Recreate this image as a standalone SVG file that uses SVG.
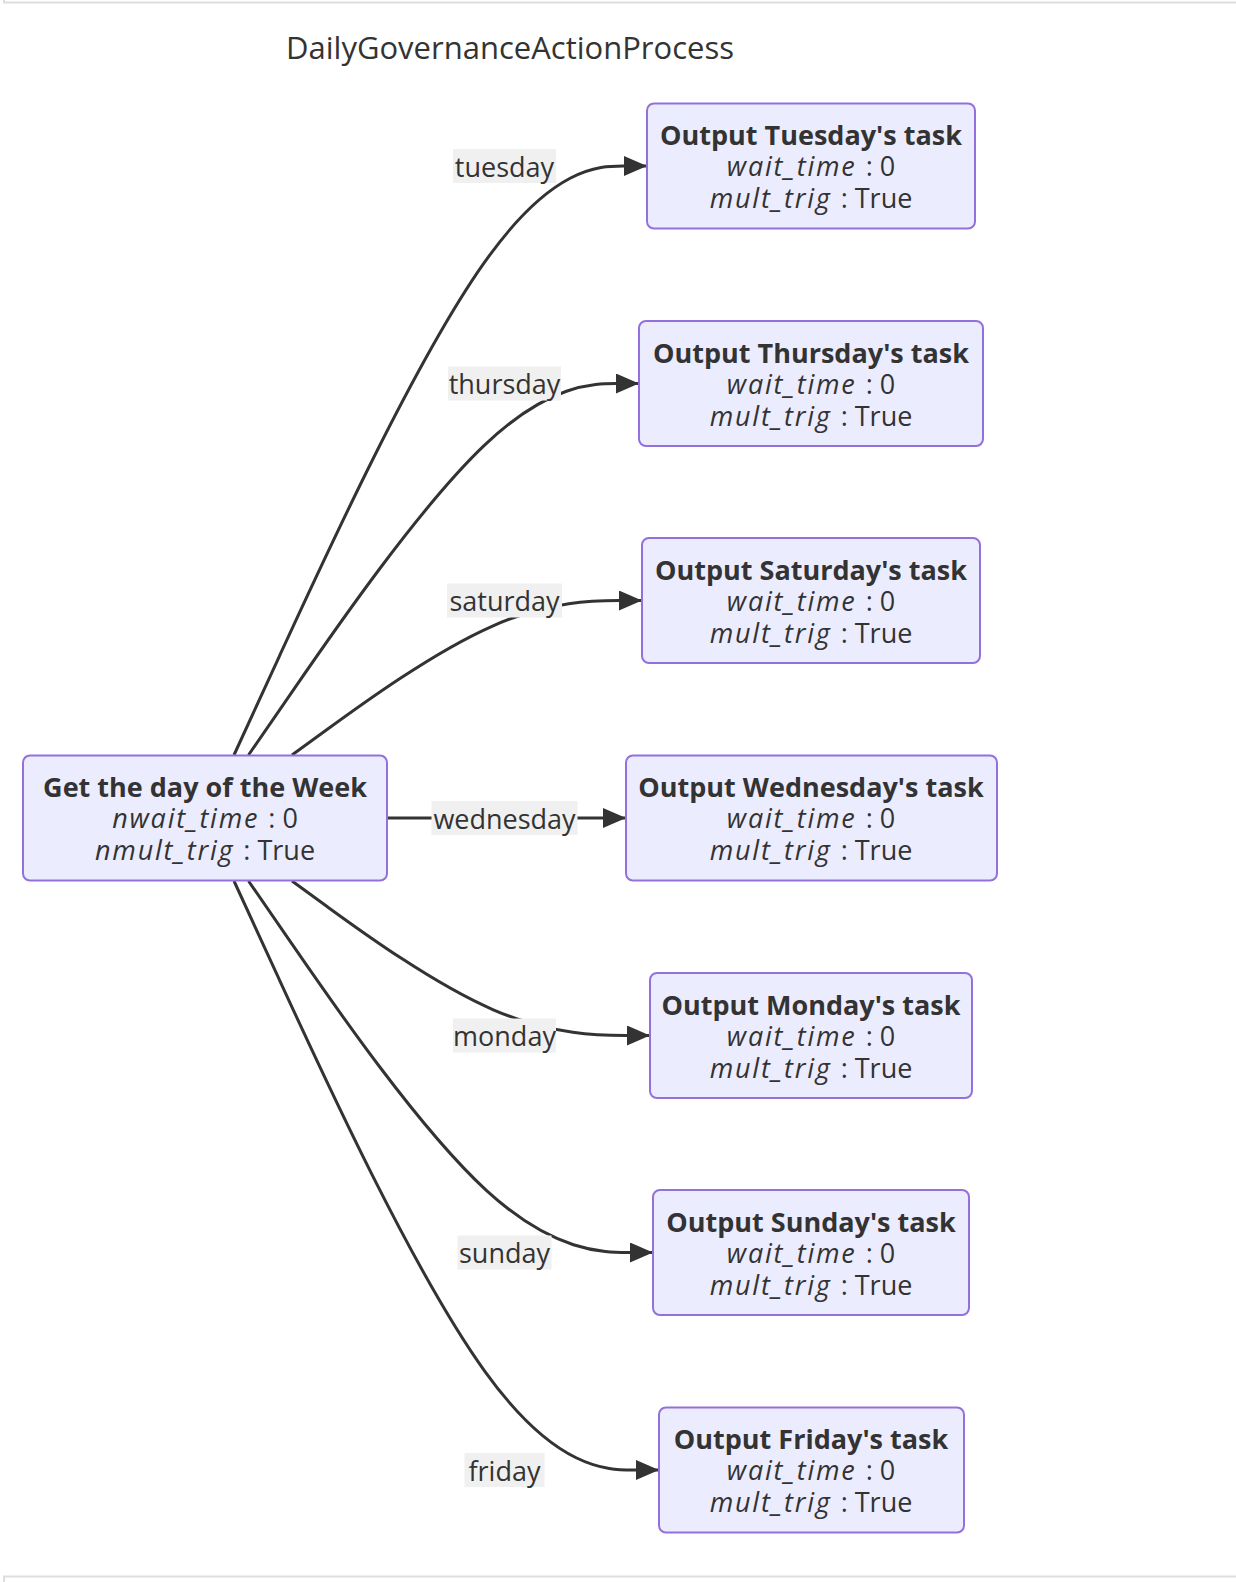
<svg xmlns="http://www.w3.org/2000/svg" width="1236" height="1582" viewBox="0 0 1236 1582">
<style>
text{font-family:"Open Sans","Noto Sans","DejaVu Sans",sans-serif;fill:#333;text-anchor:middle}
.node rect{fill:#ECECFF;stroke:#9370DB;stroke-width:2}
.b{font-weight:bold;font-size:27px}
.n{font-size:27px}
.i{font-style:italic;letter-spacing:1.8px}
.edge{fill:none;stroke:#333;stroke-width:3;marker-end:url(#arrow)}
.lbl rect{fill:#f0f0f0}
.lbl text{font-size:27px}
.frame{stroke:#ddd;stroke-width:2;fill:none}
</style>
<defs>
<marker id="arrow" viewBox="0 0 10 10" refX="10" refY="5" markerUnits="userSpaceOnUse" markerWidth="23" markerHeight="20" orient="auto" preserveAspectRatio="none">
<path d="M0,0 L10,5 L0,10 z" fill="#333"/>
</marker>
</defs>
<rect width="1236" height="1582" fill="#fff"/>
<path class="frame" d="M4,0 V2.5 H1236 M4,1582 V1576.5 H1236"/>
<text x="510" y="59" style="font-size:31px">DailyGovernanceActionProcess</text>
<g id="connectors">
<path class="edge" d="M234,755 L279.1,656.8 C324.2,558.7 414.3,362.3 483.2,264.2 C552,166 599.5,166 623.3,166 L647,166"/>
<path class="edge" d="M248.5,755 L291.2,693.1 C333.8,631.2 419.2,507.3 484.3,445.4 C549.3,383.5 594.2,383.5 616.6,383.5 L639,383.5"/>
<path class="edge" d="M292,755 L327.4,729.3 C362.8,703.5 433.7,652 492,626.3 C550.3,600.5 596.2,600.5 619.1,600.5 L642,600.5"/>
<path class="edge" d="M387,818 L626,818"/>
<path class="edge" d="M292,881 L327.4,906.8 C362.8,932.5 433.7,984 493.3,1009.8 C553,1035.5 601.5,1035.5 625.8,1035.5 L650,1035.5"/>
<path class="edge" d="M248.5,881 L291.2,942.9 C333.8,1004.8 419.2,1128.7 486.6,1190.6 C554,1252.5 603.5,1252.5 628.3,1252.5 L653,1252.5"/>
<path class="edge" d="M234,881 L279.1,979.2 C324.2,1077.3 414.3,1273.7 485.2,1371.8 C556,1470 607.5,1470 633.3,1470 L659,1470"/>
<g class="lbl">
<rect x="453" y="149" width="103" height="34"/><text x="504.5" y="176.5">tuesday</text>
<rect x="448" y="366.5" width="113" height="34"/><text x="504.5" y="394">thursday</text>
<rect x="447" y="583.5" width="115" height="34"/><text x="504.5" y="611">saturday</text>
<rect x="431.5" y="801" width="146" height="34"/><text x="504.5" y="828.5">wednesday</text>
<rect x="453" y="1018.5" width="103" height="34"/><text x="504.5" y="1046">monday</text>
<rect x="457.5" y="1235.5" width="94" height="34"/><text x="504.5" y="1263">sunday</text>
<rect x="464.5" y="1453" width="80" height="34"/><text x="504.5" y="1480.5">friday</text>
</g>
</g>
<g id="get-day" class="node"><rect x="23" y="755.5" width="364" height="125" rx="7"/>
<text class="b" x="205" y="797">Get the day of the Week</text>
<text class="n" x="205" y="828"><tspan class="i">nwait_time</tspan><tspan dx="9">: 0</tspan></text>
<text class="n" x="205" y="860"><tspan class="i">nmult_trig</tspan><tspan dx="9">: True</tspan></text></g>
<g id="tuesday" class="node"><rect x="647" y="103.5" width="328" height="125" rx="7"/>
<text class="b" x="811" y="145">Output Tuesday's task</text>
<text class="n" x="811" y="176"><tspan class="i">wait_time</tspan><tspan dx="9">: 0</tspan></text>
<text class="n" x="811" y="208"><tspan class="i">mult_trig</tspan><tspan dx="9">: True</tspan></text></g>
<g id="thursday" class="node"><rect x="639" y="321" width="344" height="125" rx="7"/>
<text class="b" x="811" y="362.5">Output Thursday's task</text>
<text class="n" x="811" y="393.5"><tspan class="i">wait_time</tspan><tspan dx="9">: 0</tspan></text>
<text class="n" x="811" y="425.5"><tspan class="i">mult_trig</tspan><tspan dx="9">: True</tspan></text></g>
<g id="saturday" class="node"><rect x="642" y="538" width="338" height="125" rx="7"/>
<text class="b" x="811" y="579.5">Output Saturday's task</text>
<text class="n" x="811" y="610.5"><tspan class="i">wait_time</tspan><tspan dx="9">: 0</tspan></text>
<text class="n" x="811" y="642.5"><tspan class="i">mult_trig</tspan><tspan dx="9">: True</tspan></text></g>
<g id="wednesday" class="node"><rect x="626" y="755.5" width="371" height="125" rx="7"/>
<text class="b" x="811" y="797">Output Wednesday's task</text>
<text class="n" x="811" y="828"><tspan class="i">wait_time</tspan><tspan dx="9">: 0</tspan></text>
<text class="n" x="811" y="860"><tspan class="i">mult_trig</tspan><tspan dx="9">: True</tspan></text></g>
<g id="monday" class="node"><rect x="650" y="973" width="322" height="125" rx="7"/>
<text class="b" x="811" y="1014.5">Output Monday's task</text>
<text class="n" x="811" y="1045.5"><tspan class="i">wait_time</tspan><tspan dx="9">: 0</tspan></text>
<text class="n" x="811" y="1077.5"><tspan class="i">mult_trig</tspan><tspan dx="9">: True</tspan></text></g>
<g id="sunday" class="node"><rect x="653" y="1190" width="316" height="125" rx="7"/>
<text class="b" x="811" y="1231.5">Output Sunday's task</text>
<text class="n" x="811" y="1262.5"><tspan class="i">wait_time</tspan><tspan dx="9">: 0</tspan></text>
<text class="n" x="811" y="1294.5"><tspan class="i">mult_trig</tspan><tspan dx="9">: True</tspan></text></g>
<g id="friday" class="node"><rect x="659" y="1407.5" width="305" height="125" rx="7"/>
<text class="b" x="811" y="1449">Output Friday's task</text>
<text class="n" x="811" y="1480"><tspan class="i">wait_time</tspan><tspan dx="9">: 0</tspan></text>
<text class="n" x="811" y="1512"><tspan class="i">mult_trig</tspan><tspan dx="9">: True</tspan></text></g>
</svg>
